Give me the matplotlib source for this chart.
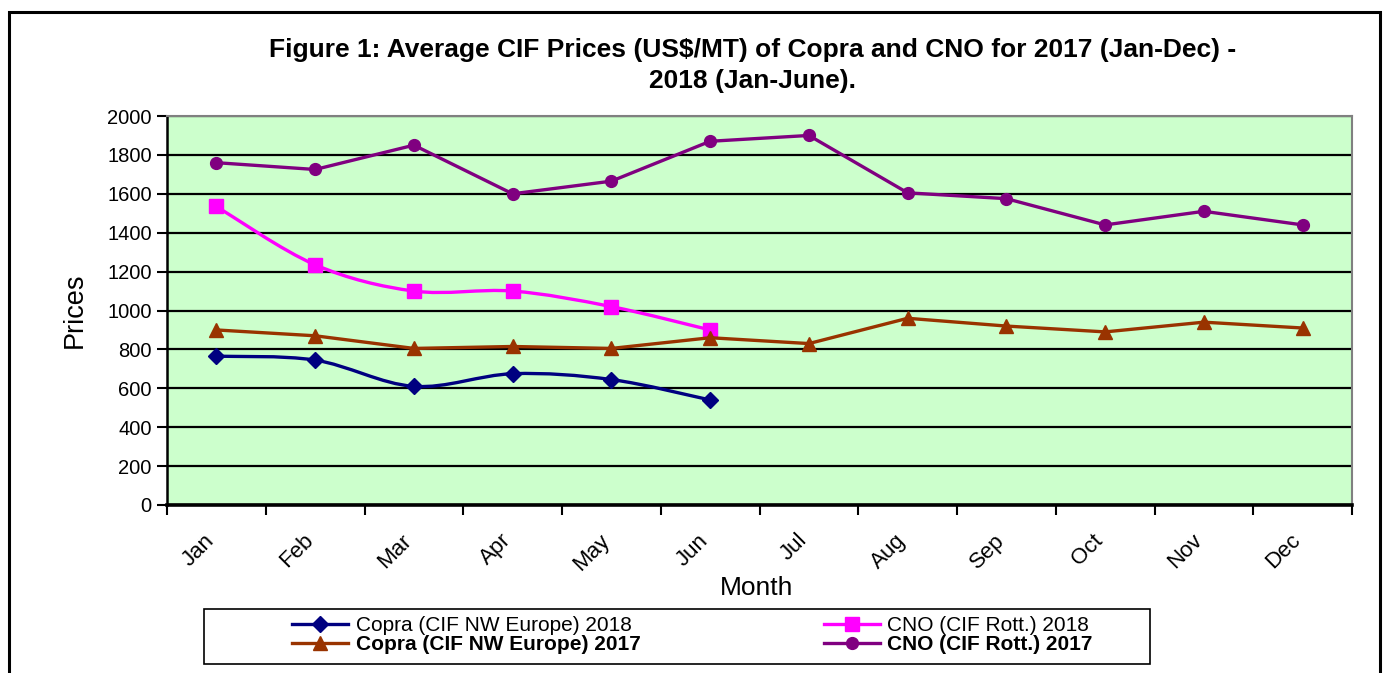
import numpy as np
import matplotlib
matplotlib.use('Agg')
import matplotlib.pyplot as plt
from matplotlib.path import Path
from matplotlib.patches import PathPatch, Rectangle
from matplotlib.lines import Line2D
from matplotlib.transforms import ScaledTranslation

plt.rcParams['font.family'] = ['Liberation Sans', 'DejaVu Sans']

months = ['Jan', 'Feb', 'Mar', 'Apr', 'May', 'Jun',
          'Jul', 'Aug', 'Sep', 'Oct', 'Nov', 'Dec']
copra_2018 = [765, 745, 610, 675, 645, 540]
cno_2018 = [1535, 1235, 1100, 1100, 1020, 900]
copra_2017 = [900, 870, 805, 815, 805, 860, 830, 960, 920, 890, 940, 910]
cno_2017 = [1760, 1725, 1850, 1600, 1665, 1870, 1900, 1605, 1575, 1440, 1510, 1440]

labels = ['Copra (CIF NW Europe) 2018', 'Copra (CIF NW Europe) 2017',
          'CNO (CIF Rott.) 2018', 'CNO (CIF Rott.) 2017']

C_COPRA18 = '#000080'
C_CNO18 = '#FF00FF'
C_COPRA17 = '#993300'
C_CNO17 = '#800080'
LW = 2.4


def smooth_path(xs, ys):
    # excel-style smoothed line: cubic bezier segments through the points
    p = np.column_stack([xs, ys]).astype(float)
    ext = np.vstack([p[0], p, p[-1]])
    verts = [p[0]]
    codes = [Path.MOVETO]
    for i in range(len(p) - 1):
        c1 = ext[i + 1] + (ext[i + 2] - ext[i]) / 6.0
        c2 = ext[i + 2] - (ext[i + 3] - ext[i + 1]) / 6.0
        verts += [c1, c2, ext[i + 2]]
        codes += [Path.CURVE4] * 3
    return Path(verts, codes)


W, H = 1385, 673
fig = plt.figure(figsize=(W / 100, H / 100), dpi=100)
ax = fig.add_axes([167 / W, 1 - 505 / H, (1352 - 167) / W, (505 - 116) / H])
ax.set_facecolor('#CCFFCC')

x18 = np.arange(len(copra_2018))
x17 = np.arange(len(copra_2017))

for vals, col, mk, ms in [(copra_2018, C_COPRA18, 'D', 8.5), (cno_2018, C_CNO18, 's', 9.5)]:
    ax.add_patch(PathPatch(smooth_path(x18, vals), fill=False, edgecolor=col,
                           lw=LW, zorder=3))
    ax.plot(x18, vals, linestyle='none', marker=mk, ms=ms, color=col, zorder=4)

ax.plot(x17, copra_2017, color=C_COPRA17, lw=LW, marker='^', ms=9.5, zorder=5)
ax.plot(x17, cno_2017, color=C_CNO17, lw=LW, marker='o', ms=8.5, zorder=5)

ax.set_xlim(-0.5, 11.5)
ax.set_ylim(0, 2000)
ax.set_yticks(np.arange(0, 2001, 200))
ax.yaxis.grid(True, color='black', lw=1.6)
ax.set_axisbelow(True)
ax.tick_params(axis='y', direction='out', length=7, width=1.5, labelsize=14.5, pad=4)

ax.set_xticks(np.arange(-0.5, 12, 1))
ax.set_xticklabels([])
ax.set_xticks(x17, minor=True)
ax.set_xticklabels(months, minor=True, rotation=45, ha='right', va='top',
                   rotation_mode='anchor', fontsize=16)
ax.tick_params(axis='x', which='major', direction='out', length=7, width=1.5)
ax.tick_params(axis='x', which='minor', length=0, pad=18)
off = ScaledTranslation(-9 / 72, 0, fig.dpi_scale_trans)
for lab in ax.get_xticklabels(minor=True):
    lab.set_transform(lab.get_transform() + off)

for s in ['top', 'right']:
    ax.spines[s].set_color('#808080')
    ax.spines[s].set_linewidth(1.5)
ax.spines['left'].set_linewidth(1.8)
ax.spines['bottom'].set_linewidth(2.6)

fig.text(75 / W, 1 - 310 / H, 'Prices', rotation=90, ha='center', va='center', fontsize=19.5)
fig.text(757 / W, 1 - 588 / H, 'Month', ha='center', va='center', fontsize=19)
fig.text(753 / W, 1 - 50 / H, 'Figure 1: Average CIF Prices (US$/MT) of Copra and CNO for 2017 (Jan-Dec) -',
         ha='center', va='center', fontsize=19, fontweight='bold')
fig.text(753 / W, 1 - 81 / H, '2018 (Jan-June).', ha='center', va='center',
         fontsize=19, fontweight='bold')

# outer frame
fig.add_artist(Rectangle((9 / W, -0.05), (1380 - 9) / W, 1.05 - 12 / H, transform=fig.transFigure,
                         fill=False, edgecolor='black', lw=2.2))
# legend frame
fig.add_artist(Rectangle((204 / W, 1 - 664 / H), (1150 - 204) / W, 55 / H, transform=fig.transFigure,
                         fill=False, edgecolor='black', lw=1.2))

handles = [
    Line2D([], [], color=C_COPRA18, lw=LW, marker='D', ms=8.5),
    Line2D([], [], color=C_COPRA17, lw=LW, marker='^', ms=9.5),
    Line2D([], [], color=C_CNO18, lw=LW, marker='s', ms=9.5),
    Line2D([], [], color=C_CNO17, lw=LW, marker='o', ms=8.5),
]
leg = fig.legend(handles, labels, ncol=2, loc='upper left', frameon=False,
                 bbox_to_anchor=(292 / W, 1 - 616 / H), borderaxespad=0, borderpad=0,
                 fontsize=15, handlelength=2.7, handletextpad=0.35,
                 labelspacing=0.0, columnspacing=8.8)
for t in leg.get_texts()[1::2]:
    t.set_fontweight('bold')

fig.savefig('out.png', dpi=100)
